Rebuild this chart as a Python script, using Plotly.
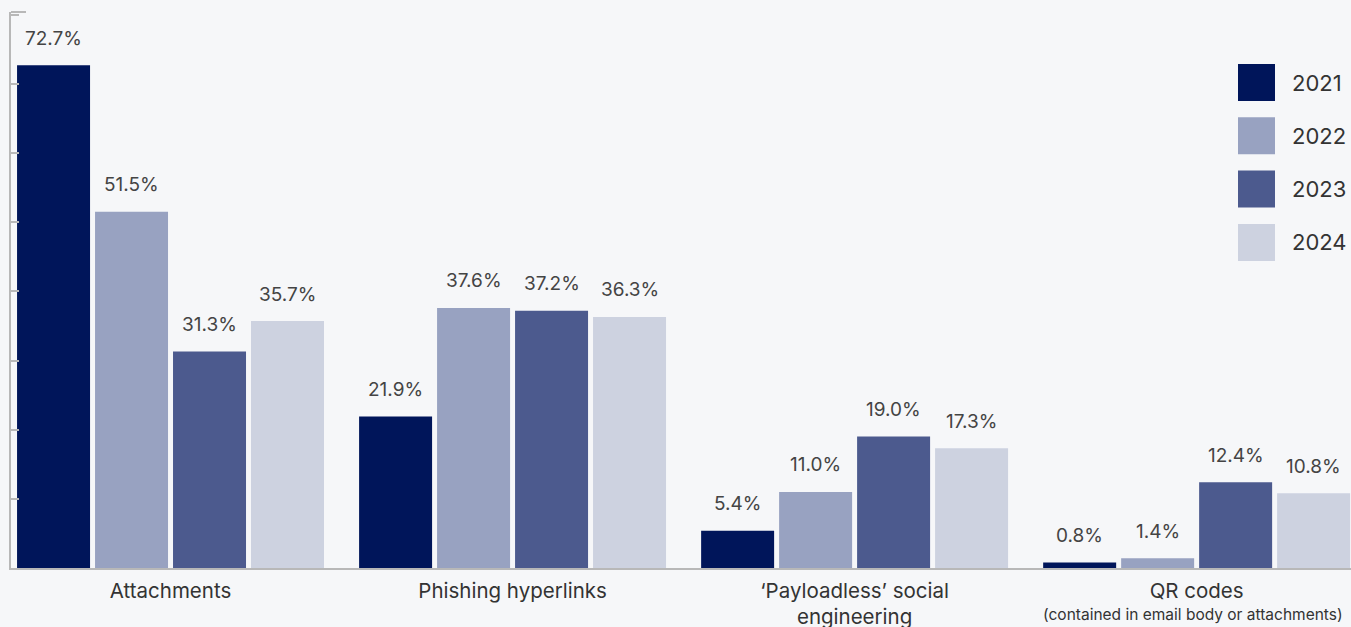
import plotly.graph_objects as go

categories = [
    "Attachments",
    "Phishing hyperlinks",
    "‘Payloadless’ social<br>engineering",
    "QR codes",
]
category_notes = ["", "", "", "(contained in email body or attachments)"]
years = ["2021", "2022", "2023", "2024"]
values = {
    "2021": [72.7, 21.9, 5.4, 0.8],
    "2022": [51.5, 37.6, 11.0, 1.4],
    "2023": [31.3, 37.2, 19.0, 12.4],
    "2024": [35.7, 36.3, 17.3, 10.8],
}
colors = {
    "2021": "#00155a",
    "2022": "#98a2c1",
    "2023": "#4c5a8e",
    "2024": "#cdd2e0",
}

BARGAP = 0.088
BARGROUPGAP = 0.064
FONT = "Inter"
TEXT_COLOR = "#444444"
AXIS_COLOR = "#b8b8b8"
BG = "#f6f7f9"

W, H = 1351, 627
ML, MR, MT, MB = 11, 0, 12, 59
PW, PH = W - ML - MR, H - MT - MB

fig = go.Figure()
for yr in years:
    fig.add_trace(go.Bar(
        name=yr,
        x=categories,
        y=values[yr],
        marker=dict(color=colors[yr], line=dict(width=0)),
        showlegend=False,
        hoverinfo="skip",
    ))

# value labels above each bar, centred on the bar's slot within its group
n = len(years)
slot = (1 - BARGAP) / n
for j, yr in enumerate(years):
    for i, v in enumerate(values[yr]):
        fig.add_annotation(
            x=i + (j - (n - 1) / 2) * slot,
            y=v,
            xref="x", yref="y",
            text=f"{v:.1f}%",
            showarrow=False,
            yanchor="middle",
            yshift=27,
            font=dict(family=FONT, size=19, color=TEXT_COLOR),
        )

# small-print notes under category labels
for i, note in enumerate(category_notes):
    if note:
        fig.add_annotation(
            x=i - 0.012, y=0, xref="x", yref="paper",
            text=note, showarrow=False,
            yanchor="middle", yshift=-46,
            font=dict(family=FONT, size=15.5, color="#333333"),
        )

# legend: large swatches with year labels
for k, yr in enumerate(years):
    top_px = 64 + k * 53.3
    fig.add_shape(
        type="rect", xref="paper", yref="paper",
        x0=(1238 - ML) / PW, x1=(1275 - ML) / PW,
        y0=(H - MB - top_px - 37) / PH,
        y1=(H - MB - top_px) / PH,
        fillcolor=colors[yr], line=dict(width=0), layer="above",
    )
    fig.add_annotation(
        x=(1290 - ML) / PW, y=(H - MB - top_px - 18.5) / PH,
        xref="paper", yref="paper",
        text=yr, showarrow=False, xanchor="left", yanchor="middle",
        font=dict(family=FONT, size=22, color="#333333"),
    )

# short cap at the top of the value axis
fig.add_shape(
    type="line", xref="paper", yref="paper",
    x0=0, x1=15 / PW, y0=1, y1=1,
    line=dict(color=AXIS_COLOR, width=2),
)

fig.update_layout(
    width=W, height=H,
    margin=dict(l=ML, r=MR, t=MT, b=MB, autoexpand=False),
    barmode="group",
    bargap=BARGAP,
    bargroupgap=BARGROUPGAP,
    paper_bgcolor=BG,
    plot_bgcolor=BG,
    font=dict(family=FONT, color=TEXT_COLOR),
    xaxis=dict(
        range=[-0.4664, 3.4513],
        showline=True, linecolor=AXIS_COLOR, linewidth=2,
        ticks="", showgrid=False, zeroline=False,
        tickfont=dict(family=FONT, size=20.5, color="#333333"),
        ticklabelstandoff=3,
        automargin=False,
    ),
    yaxis=dict(
        range=[0, 80.4], dtick=10,
        showline=True, linecolor=AXIS_COLOR, linewidth=2,
        ticks="inside", ticklen=8, tickwidth=2, tickcolor=AXIS_COLOR,
        showticklabels=False, showgrid=False, zeroline=False,
        automargin=False,
    ),
)

fig.write_html("out.html")
